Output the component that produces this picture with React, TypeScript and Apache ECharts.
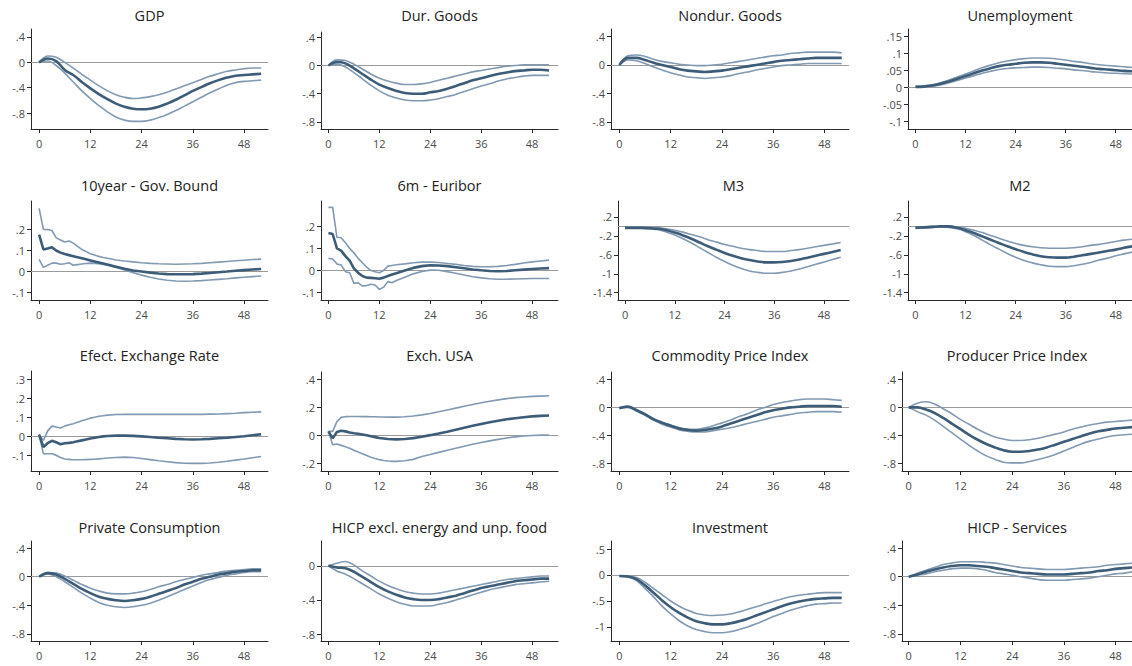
import React, { useEffect, useRef } from 'react';
import * as echarts from 'echarts';

// ---------- x positions (months) ----------
const xEven = [0, 2, 4, 6, 8, 10, 12, 14, 16, 18, 20, 22, 24, 26, 28, 30, 32, 34, 36, 38, 40, 42, 44, 46, 48, 50, 52];
const xJag = [0, 1, 2, 3, 4, 5, 6, 7, 8, 9, 10, 11, 12, 13, 14, 15, 16, 18, 20, 22, 24, 26, 28, 30, 32, 34, 36, 38, 40, 42, 44, 46, 48, 50, 52];
const xTicks = [0, 12, 24, 36, 48];

// ---------- titles ----------
const titles = [
  'GDP', 'Dur. Goods', 'Nondur. Goods', 'Unemployment',
  '10year - Gov. Bound', '6m - Euribor', 'M3', 'M2',
  'Efect. Exchange Rate', 'Exch. USA', 'Commodity Price Index', 'Producer Price Index',
  'Private Consumption', 'HICP excl. energy and unp. food', 'Investment', 'HICP - Services',
];

// ---------- y tick labels ----------
const ticks4 = [-0.8, -0.4, 0, 0.4];
const ticksUnemp = [-0.1, -0.05, 0, 0.05, 0.1, 0.15];
const ticksRate = [-0.1, 0, 0.1, 0.2];
const ticksMoney = [-1.4, -1, -0.6, -0.2, 0.2];
const ticksEER = [-0.1, 0, 0.1, 0.2, 0.3];
const ticksUSA = [-0.2, 0, 0.2, 0.4];
const ticksHicpX = [-0.8, -0.4, 0];
const ticksInv = [-1, -0.5, 0, 0.5];

// ---------- series (mean response, upper band, lower band) ----------
const gdpMean = [0, 0.06, 0.02, -0.12, -0.2, -0.31, -0.41, -0.5, -0.58, -0.65, -0.7, -0.73, -0.74, -0.73, -0.7, -0.65, -0.59, -0.52, -0.45, -0.39, -0.33, -0.28, -0.24, -0.21, -0.2, -0.19, -0.18];
const gdpUpper = [0, 0.1, 0.08, 0, -0.09, -0.19, -0.28, -0.37, -0.45, -0.51, -0.55, -0.57, -0.56, -0.54, -0.51, -0.47, -0.42, -0.37, -0.32, -0.27, -0.22, -0.18, -0.14, -0.12, -0.1, -0.09, -0.09];
const gdpLower = [0, 0.02, -0.05, -0.17, -0.31, -0.45, -0.57, -0.68, -0.78, -0.86, -0.91, -0.93, -0.93, -0.91, -0.87, -0.82, -0.76, -0.69, -0.62, -0.55, -0.48, -0.42, -0.36, -0.32, -0.3, -0.29, -0.28];

const durMean = [0, 0.05, 0.03, -0.04, -0.12, -0.2, -0.27, -0.32, -0.36, -0.39, -0.4, -0.4, -0.38, -0.36, -0.33, -0.29, -0.25, -0.21, -0.18, -0.15, -0.12, -0.1, -0.08, -0.07, -0.06, -0.06, -0.07];
const durUpper = [0, 0.08, 0.07, 0.02, -0.05, -0.12, -0.18, -0.22, -0.25, -0.27, -0.27, -0.26, -0.24, -0.21, -0.18, -0.15, -0.12, -0.09, -0.07, -0.05, -0.03, -0.01, 0, 0.01, 0.01, 0.01, 0.01];
const durLower = [0, 0.02, -0.02, -0.1, -0.19, -0.28, -0.36, -0.42, -0.46, -0.49, -0.5, -0.5, -0.49, -0.47, -0.44, -0.41, -0.37, -0.33, -0.29, -0.26, -0.22, -0.19, -0.17, -0.15, -0.14, -0.14, -0.14];

const nondurMean = [0, 0.1, 0.1, 0.07, 0.03, 0, -0.03, -0.06, -0.08, -0.09, -0.1, -0.09, -0.08, -0.06, -0.04, -0.02, 0, 0.02, 0.04, 0.06, 0.07, 0.08, 0.09, 0.1, 0.1, 0.1, 0.1];
const nondurUpper = [0, 0.13, 0.14, 0.12, 0.08, 0.05, 0.03, 0.01, 0, -0.01, -0.01, 0, 0.01, 0.03, 0.05, 0.07, 0.09, 0.11, 0.13, 0.14, 0.16, 0.17, 0.18, 0.18, 0.18, 0.18, 0.17];
const nondurLower = [0, 0.07, 0.06, 0.02, -0.03, -0.07, -0.11, -0.14, -0.17, -0.18, -0.19, -0.18, -0.17, -0.15, -0.12, -0.1, -0.07, -0.05, -0.03, -0.01, 0, 0.01, 0.02, 0.02, 0.02, 0.02, 0.02];

const unempMean = [0.002, 0.003, 0.006, 0.011, 0.018, 0.026, 0.034, 0.042, 0.05, 0.057, 0.063, 0.067, 0.07, 0.073, 0.074, 0.074, 0.073, 0.07, 0.067, 0.064, 0.061, 0.058, 0.055, 0.053, 0.051, 0.049, 0.048];
const unempUpper = [0.004, 0.005, 0.008, 0.014, 0.022, 0.031, 0.04, 0.049, 0.058, 0.066, 0.073, 0.078, 0.082, 0.085, 0.087, 0.087, 0.086, 0.084, 0.081, 0.077, 0.074, 0.07, 0.067, 0.065, 0.063, 0.061, 0.059];
const unempLower = [0.001, 0.002, 0.004, 0.008, 0.014, 0.021, 0.028, 0.035, 0.042, 0.048, 0.053, 0.056, 0.058, 0.059, 0.06, 0.06, 0.059, 0.057, 0.055, 0.052, 0.05, 0.047, 0.045, 0.043, 0.042, 0.041, 0.04];

const bondMean = [0.175, 0.105, 0.11, 0.115, 0.1, 0.09, 0.083, 0.078, 0.073, 0.068, 0.063, 0.058, 0.053, 0.048, 0.043, 0.038, 0.033, 0.023, 0.013, 0.005, 0, -0.005, -0.009, -0.012, -0.013, -0.013, -0.012, -0.01, -0.007, -0.003, 0, 0.004, 0.007, 0.01, 0.012];
const bondUpper = [0.3, 0.2, 0.2, 0.195, 0.16, 0.15, 0.14, 0.145, 0.135, 0.12, 0.105, 0.095, 0.085, 0.079, 0.072, 0.067, 0.063, 0.055, 0.05, 0.046, 0.042, 0.039, 0.037, 0.036, 0.035, 0.036, 0.037, 0.039, 0.042, 0.045, 0.048, 0.051, 0.054, 0.057, 0.059];
const bondLower = [0.058, 0.02, 0.03, 0.04, 0.04, 0.035, 0.037, 0.042, 0.03, 0.033, 0.036, 0.038, 0.04, 0.039, 0.037, 0.034, 0.03, 0.02, 0.008, -0.005, -0.017, -0.027, -0.035, -0.041, -0.045, -0.046, -0.045, -0.043, -0.04, -0.037, -0.034, -0.03, -0.027, -0.024, -0.021];

const euriborMean = [0.17, 0.165, 0.1, 0.09, 0.065, 0.045, 0.01, -0.01, -0.025, -0.032, -0.033, -0.035, -0.037, -0.032, -0.025, -0.018, -0.012, 0, 0.012, 0.02, 0.024, 0.023, 0.02, 0.015, 0.01, 0.005, 0.001, -0.002, -0.003, -0.002, 0.001, 0.004, 0.007, 0.009, 0.011];
const euriborUpper = [0.285, 0.285, 0.15, 0.148, 0.125, 0.1, 0.08, 0.055, 0.035, 0.015, 0, -0.005, -0.01, 0, 0.02, 0.023, 0.026, 0.03, 0.035, 0.038, 0.038, 0.036, 0.032, 0.028, 0.023, 0.019, 0.017, 0.017, 0.019, 0.023, 0.028, 0.034, 0.039, 0.043, 0.047];
const euriborLower = [0.055, 0.052, 0.03, 0.025, -0.005, -0.01, -0.058, -0.055, -0.07, -0.068, -0.062, -0.065, -0.085, -0.075, -0.05, -0.055, -0.045, -0.03, -0.015, -0.004, 0.002, 0.001, -0.005, -0.012, -0.02, -0.028, -0.033, -0.037, -0.039, -0.039, -0.038, -0.037, -0.036, -0.036, -0.036];

const m3Mean = [-0.03, -0.03, -0.03, -0.04, -0.05, -0.08, -0.13, -0.19, -0.26, -0.34, -0.42, -0.49, -0.56, -0.62, -0.67, -0.71, -0.74, -0.76, -0.76, -0.75, -0.73, -0.7, -0.66, -0.62, -0.58, -0.54, -0.5];
const m3Upper = [-0.02, -0.02, -0.02, -0.02, -0.03, -0.05, -0.08, -0.12, -0.17, -0.22, -0.28, -0.33, -0.38, -0.42, -0.46, -0.49, -0.51, -0.53, -0.53, -0.53, -0.51, -0.49, -0.46, -0.43, -0.4, -0.37, -0.34];
const m3Lower = [-0.04, -0.04, -0.04, -0.05, -0.07, -0.12, -0.18, -0.26, -0.35, -0.45, -0.55, -0.65, -0.74, -0.82, -0.89, -0.94, -0.97, -0.99, -0.99, -0.97, -0.94, -0.9, -0.85, -0.8, -0.75, -0.7, -0.65];

const m2Mean = [-0.03, -0.02, -0.01, 0, 0, -0.03, -0.08, -0.14, -0.21, -0.28, -0.35, -0.42, -0.48, -0.54, -0.59, -0.63, -0.65, -0.66, -0.66, -0.64, -0.61, -0.58, -0.55, -0.52, -0.49, -0.45, -0.42];
const m2Upper = [-0.02, -0.01, 0, 0, 0, -0.01, -0.04, -0.08, -0.13, -0.19, -0.25, -0.31, -0.36, -0.4, -0.43, -0.45, -0.46, -0.46, -0.46, -0.45, -0.43, -0.4, -0.38, -0.35, -0.32, -0.29, -0.27];
const m2Lower = [-0.04, -0.03, -0.02, -0.01, -0.02, -0.05, -0.11, -0.19, -0.29, -0.39, -0.48, -0.57, -0.65, -0.72, -0.77, -0.81, -0.84, -0.85, -0.85, -0.83, -0.8, -0.76, -0.71, -0.67, -0.62, -0.58, -0.54];

const eerMean = [0.01, -0.055, -0.035, -0.022, -0.03, -0.04, -0.035, -0.033, -0.03, -0.025, -0.02, -0.015, -0.01, -0.006, -0.002, 0.001, 0.003, 0.005, 0.005, 0.004, 0.001, -0.002, -0.006, -0.009, -0.012, -0.014, -0.015, -0.014, -0.012, -0.009, -0.006, -0.002, 0.002, 0.007, 0.012];
const eerUpper = [0.01, -0.02, 0.03, 0.055, 0.05, 0.045, 0.055, 0.062, 0.068, 0.075, 0.083, 0.09, 0.097, 0.102, 0.107, 0.11, 0.113, 0.116, 0.117, 0.117, 0.117, 0.117, 0.117, 0.117, 0.117, 0.117, 0.117, 0.117, 0.118, 0.119, 0.121, 0.123, 0.126, 0.128, 0.13];
const eerLower = [0.01, -0.09, -0.09, -0.09, -0.098, -0.11, -0.118, -0.12, -0.122, -0.122, -0.122, -0.121, -0.12, -0.119, -0.117, -0.115, -0.113, -0.11, -0.108, -0.11, -0.115, -0.121, -0.127, -0.132, -0.137, -0.14, -0.141, -0.141, -0.139, -0.135, -0.13, -0.124, -0.118, -0.111, -0.105];

const usaMean = [0.03, -0.02, 0.025, 0.035, 0.03, 0.022, 0.017, 0.013, 0.008, 0.002, -0.005, -0.011, -0.017, -0.021, -0.025, -0.026, -0.027, -0.025, -0.018, -0.008, 0.003, 0.015, 0.028, 0.042, 0.056, 0.07, 0.083, 0.095, 0.106, 0.116, 0.124, 0.131, 0.137, 0.141, 0.143];
const usaUpper = [0.03, 0.03, 0.1, 0.13, 0.135, 0.136, 0.136, 0.136, 0.135, 0.135, 0.134, 0.134, 0.133, 0.133, 0.132, 0.132, 0.132, 0.134, 0.14, 0.148, 0.158, 0.17, 0.183, 0.196, 0.209, 0.222, 0.234, 0.245, 0.255, 0.264, 0.271, 0.276, 0.28, 0.282, 0.284];
const usaLower = [0.03, -0.065, -0.06, -0.07, -0.08, -0.09, -0.105, -0.118, -0.13, -0.143, -0.155, -0.164, -0.172, -0.178, -0.182, -0.184, -0.184, -0.18, -0.17, -0.15, -0.135, -0.12, -0.105, -0.09, -0.076, -0.062, -0.05, -0.038, -0.027, -0.017, -0.009, -0.003, 0.001, 0.003, 0.004];

const commMean = [-0.01, 0.01, -0.04, -0.1, -0.17, -0.22, -0.26, -0.3, -0.32, -0.33, -0.32, -0.3, -0.27, -0.23, -0.19, -0.15, -0.11, -0.07, -0.04, -0.02, 0, 0.01, 0.02, 0.02, 0.02, 0.02, 0.01];
const commUpper = [-0.01, 0.02, -0.03, -0.09, -0.16, -0.21, -0.25, -0.29, -0.31, -0.31, -0.29, -0.26, -0.22, -0.18, -0.13, -0.09, -0.04, 0, 0.04, 0.07, 0.09, 0.11, 0.12, 0.12, 0.12, 0.11, 0.1];
const commLower = [-0.01, 0, -0.05, -0.11, -0.18, -0.24, -0.28, -0.32, -0.34, -0.35, -0.35, -0.33, -0.31, -0.29, -0.26, -0.23, -0.2, -0.17, -0.14, -0.12, -0.1, -0.08, -0.07, -0.06, -0.06, -0.06, -0.07];

const ppiMean = [0, 0, -0.03, -0.08, -0.15, -0.23, -0.31, -0.39, -0.46, -0.52, -0.57, -0.61, -0.63, -0.63, -0.62, -0.6, -0.57, -0.53, -0.49, -0.45, -0.41, -0.37, -0.34, -0.32, -0.3, -0.29, -0.28];
const ppiUpper = [0, 0.06, 0.08, 0.05, -0.02, -0.09, -0.17, -0.24, -0.31, -0.37, -0.42, -0.45, -0.47, -0.47, -0.46, -0.44, -0.41, -0.38, -0.35, -0.31, -0.28, -0.25, -0.23, -0.21, -0.2, -0.19, -0.18];
const ppiLower = [0, -0.06, -0.11, -0.18, -0.27, -0.36, -0.45, -0.54, -0.62, -0.69, -0.74, -0.78, -0.79, -0.79, -0.77, -0.74, -0.71, -0.67, -0.62, -0.57, -0.52, -0.48, -0.45, -0.42, -0.4, -0.39, -0.38];

const pcMean = [0, 0.05, 0.03, -0.03, -0.1, -0.17, -0.23, -0.28, -0.31, -0.33, -0.34, -0.33, -0.31, -0.28, -0.24, -0.2, -0.16, -0.11, -0.07, -0.03, 0, 0.03, 0.05, 0.07, 0.08, 0.09, 0.09];
const pcUpper = [0, 0.06, 0.05, 0.01, -0.05, -0.11, -0.16, -0.2, -0.23, -0.24, -0.24, -0.23, -0.21, -0.18, -0.14, -0.11, -0.07, -0.04, -0.01, 0.02, 0.04, 0.06, 0.08, 0.09, 0.1, 0.11, 0.11];
const pcLower = [0, 0.04, 0, -0.07, -0.15, -0.23, -0.3, -0.36, -0.4, -0.42, -0.43, -0.42, -0.4, -0.37, -0.33, -0.28, -0.23, -0.18, -0.13, -0.08, -0.04, -0.01, 0.02, 0.04, 0.06, 0.07, 0.07];

const hicpxMean = [0, -0.02, -0.03, -0.07, -0.13, -0.19, -0.25, -0.3, -0.34, -0.37, -0.39, -0.4, -0.4, -0.39, -0.37, -0.35, -0.32, -0.29, -0.26, -0.24, -0.22, -0.2, -0.18, -0.17, -0.16, -0.15, -0.15];
const hicpxUpper = [0, 0.03, 0.05, 0.01, -0.06, -0.12, -0.18, -0.23, -0.27, -0.3, -0.32, -0.33, -0.33, -0.32, -0.3, -0.28, -0.26, -0.24, -0.22, -0.2, -0.18, -0.16, -0.15, -0.14, -0.13, -0.12, -0.12];
const hicpxLower = [0, -0.06, -0.1, -0.15, -0.21, -0.27, -0.33, -0.38, -0.42, -0.45, -0.47, -0.47, -0.47, -0.45, -0.43, -0.4, -0.37, -0.34, -0.31, -0.28, -0.26, -0.24, -0.22, -0.21, -0.2, -0.19, -0.18];

const invMean = [-0.02, -0.03, -0.08, -0.2, -0.34, -0.49, -0.62, -0.73, -0.82, -0.89, -0.93, -0.95, -0.95, -0.93, -0.89, -0.84, -0.78, -0.72, -0.66, -0.6, -0.55, -0.51, -0.48, -0.46, -0.45, -0.44, -0.44];
const invUpper = [-0.02, -0.02, -0.05, -0.14, -0.26, -0.38, -0.5, -0.6, -0.68, -0.74, -0.77, -0.78, -0.77, -0.75, -0.71, -0.66, -0.61, -0.56, -0.51, -0.46, -0.42, -0.39, -0.37, -0.35, -0.34, -0.34, -0.34];
const invLower = [-0.02, -0.04, -0.11, -0.26, -0.42, -0.6, -0.75, -0.88, -0.98, -1.05, -1.09, -1.11, -1.11, -1.09, -1.05, -1, -0.94, -0.87, -0.8, -0.74, -0.68, -0.63, -0.59, -0.56, -0.55, -0.54, -0.54];

const hicpsMean = [0, 0.03, 0.07, 0.1, 0.13, 0.15, 0.16, 0.16, 0.15, 0.14, 0.12, 0.1, 0.08, 0.06, 0.05, 0.04, 0.03, 0.03, 0.03, 0.04, 0.05, 0.06, 0.08, 0.09, 0.11, 0.12, 0.13];
const hicpsUpper = [0, 0.05, 0.09, 0.13, 0.17, 0.19, 0.21, 0.21, 0.21, 0.2, 0.19, 0.17, 0.15, 0.13, 0.12, 0.11, 0.1, 0.1, 0.1, 0.11, 0.12, 0.13, 0.14, 0.16, 0.17, 0.18, 0.19];
const hicpsLower = [0, 0.02, 0.04, 0.07, 0.09, 0.11, 0.12, 0.12, 0.11, 0.09, 0.06, 0.04, 0.02, 0, -0.02, -0.04, -0.05, -0.05, -0.05, -0.04, -0.03, -0.02, 0, 0.02, 0.04, 0.05, 0.07];

// ---------- panels (data wiring) ----------
const panelData = [
  { xs: xEven, mean: gdpMean, upper: gdpUpper, lower: gdpLower, yTicks: ticks4 },
  { xs: xEven, mean: durMean, upper: durUpper, lower: durLower, yTicks: ticks4 },
  { xs: xEven, mean: nondurMean, upper: nondurUpper, lower: nondurLower, yTicks: ticks4 },
  { xs: xEven, mean: unempMean, upper: unempUpper, lower: unempLower, yTicks: ticksUnemp },
  { xs: xJag, mean: bondMean, upper: bondUpper, lower: bondLower, yTicks: ticksRate },
  { xs: xJag, mean: euriborMean, upper: euriborUpper, lower: euriborLower, yTicks: ticksRate },
  { xs: xEven, mean: m3Mean, upper: m3Upper, lower: m3Lower, yTicks: ticksMoney },
  { xs: xEven, mean: m2Mean, upper: m2Upper, lower: m2Lower, yTicks: ticksMoney },
  { xs: xJag, mean: eerMean, upper: eerUpper, lower: eerLower, yTicks: ticksEER },
  { xs: xJag, mean: usaMean, upper: usaUpper, lower: usaLower, yTicks: ticksUSA },
  { xs: xEven, mean: commMean, upper: commUpper, lower: commLower, yTicks: ticks4 },
  { xs: xEven, mean: ppiMean, upper: ppiUpper, lower: ppiLower, yTicks: ticks4 },
  { xs: xEven, mean: pcMean, upper: pcUpper, lower: pcLower, yTicks: ticks4 },
  { xs: xEven, mean: hicpxMean, upper: hicpxUpper, lower: hicpxLower, yTicks: ticksHicpX },
  { xs: xEven, mean: invMean, upper: invUpper, lower: invLower, yTicks: ticksInv },
  { xs: xEven, mean: hicpsMean, upper: hicpsUpper, lower: hicpsLower, yTicks: ticks4 },
];

// ---------- layout (pixel boxes and axis extents) ----------
const layout = [
  { l: 31, t: 29, w: 237, h: 100, x0: -1.9, x1: 53.6, y0: -1.05, y1: 0.525, ty: 17 },
  { l: 321, t: 32, w: 237, h: 97, x0: -1.75, x1: 54.1, y0: -0.9, y1: 0.475, ty: 17 },
  { l: 611, t: 29, w: 238, h: 100, x0: -1.95, x1: 53.7, y0: -0.9, y1: 0.505, ty: 17 },
  { l: 908, t: 29, w: 224, h: 100, x0: -1.8, x1: 51.9, y0: -0.1215, y1: 0.172, ty: 17 },
  { l: 31, t: 201, w: 237, h: 99, x0: -1.9, x1: 53.6, y0: -0.135, y1: 0.335, ty: 187 },
  { l: 321, t: 201, w: 237, h: 99, x0: -1.75, x1: 54.1, y0: -0.133, y1: 0.314, ty: 187 },
  { l: 618, t: 201, w: 231, h: 99, x0: -1.7, x1: 54, y0: -1.554, y1: 0.537, ty: 187 },
  { l: 908, t: 201, w: 224, h: 99, x0: -1.8, x1: 51.9, y0: -1.554, y1: 0.537, ty: 187 },
  { l: 31, t: 371, w: 237, h: 100, x0: -1.9, x1: 53.6, y0: -0.181, y1: 0.345, ty: 357 },
  { l: 321, t: 372, w: 237, h: 99, x0: -1.75, x1: 54.1, y0: -0.253, y1: 0.454, ty: 357 },
  { l: 611, t: 372, w: 238, h: 99, x0: -1.95, x1: 53.7, y0: -0.905, y1: 0.504, ty: 357 },
  { l: 902, t: 372, w: 230, h: 99, x0: -1.56, x1: 51.8, y0: -0.905, y1: 0.504, ty: 357 },
  { l: 31, t: 541, w: 237, h: 100, x0: -1.9, x1: 53.6, y0: -0.9, y1: 0.5, ty: 529 },
  { l: 321, t: 541, w: 237, h: 100, x0: -1.75, x1: 54.1, y0: -0.88, y1: 0.29, ty: 529 },
  { l: 611, t: 541, w: 238, h: 100, x0: -1.95, x1: 53.7, y0: -1.27, y1: 0.654, ty: 529 },
  { l: 902, t: 541, w: 230, h: 100, x0: -1.56, x1: 51.8, y0: -0.9, y1: 0.5, ty: 529 },
];

const FONT = "'Open Sans', 'Noto Sans', sans-serif";
const MEAN_COLOR = '#3d5c78';
const BAND_COLOR = '#8199b1';
const ZERO_COLOR = '#9a9a9a';
const AXIS_COLOR = '#2a2a2a';
const LABEL_COLOR = '#4a4a4a';

function fmt(v: number): string {
  const r = Math.round(v * 1000) / 1000;
  let s = String(r);
  if (s.startsWith('0.')) s = s.slice(1);
  else if (s.startsWith('-0.')) s = '-' + s.slice(2);
  return s;
}

function buildOption() {
  const grid: any[] = [];
  const xAxis: any[] = [];
  const yAxis: any[] = [];
  const series: any[] = [];
  const title: any[] = [];

  panelData.forEach((p, i) => {
    const L = layout[i];
    grid.push({ left: L.l, top: L.t, width: L.w, height: L.h, containLabel: false });
    title.push({
      text: titles[i],
      left: L.l + L.w / 2,
      top: L.ty - 9,
      textAlign: 'center',
      padding: 0,
      textStyle: { fontFamily: FONT, fontSize: 14.5, fontWeight: 'normal', color: '#222' },
    });
    xAxis.push({
      type: 'value',
      gridIndex: i,
      min: L.x0,
      max: L.x1,
      axisLine: { show: true, onZero: false, lineStyle: { color: AXIS_COLOR, width: 1 } },
      axisTick: { show: true, length: 4, customValues: xTicks, lineStyle: { color: AXIS_COLOR } },
      axisLabel: { show: true, customValues: xTicks, margin: 9, color: LABEL_COLOR, fontFamily: FONT, fontSize: 11 },
      splitLine: { show: false },
    });
    yAxis.push({
      type: 'value',
      gridIndex: i,
      min: L.y0,
      max: L.y1,
      axisLine: { show: true, onZero: false, lineStyle: { color: AXIS_COLOR, width: 1 } },
      axisTick: { show: true, length: 4, customValues: p.yTicks, lineStyle: { color: AXIS_COLOR } },
      axisLabel: {
        show: true,
        customValues: p.yTicks,
        margin: 6,
        color: LABEL_COLOR,
        fontFamily: FONT,
        fontSize: 11,
        formatter: (v: number) => fmt(v),
      },
      splitLine: { show: false },
    });
    const pair = (ys: number[]) => p.xs.map((x, k) => [x, ys[k]]);
    const smooth = p.xs === xEven ? 0.35 : false;
    series.push({
      type: 'line',
      xAxisIndex: i,
      yAxisIndex: i,
      data: pair(p.upper),
      showSymbol: false,
      symbol: 'none',
      smooth,
      silent: true,
      lineStyle: { color: BAND_COLOR, width: 1.6 },
      z: 3,
      markLine: {
        silent: true,
        symbol: 'none',
        label: { show: false },
        lineStyle: { color: ZERO_COLOR, width: 1.2, type: 'solid' },
        data: [{ yAxis: 0 }],
        z: 1,
      },
    });
    series.push({
      type: 'line',
      xAxisIndex: i,
      yAxisIndex: i,
      data: pair(p.lower),
      showSymbol: false,
      symbol: 'none',
      smooth,
      silent: true,
      lineStyle: { color: BAND_COLOR, width: 1.6 },
      z: 3,
    });
    series.push({
      type: 'line',
      xAxisIndex: i,
      yAxisIndex: i,
      data: pair(p.mean),
      showSymbol: false,
      symbol: 'none',
      smooth,
      silent: true,
      lineStyle: { color: MEAN_COLOR, width: 2.6 },
      z: 4,
    });
  });

  return {
    animation: false,
    backgroundColor: '#ffffff',
    textStyle: { fontFamily: FONT },
    title,
    grid,
    xAxis,
    yAxis,
    series,
  };
}

export default function App() {
  const ref = useRef<HTMLDivElement>(null);
  useEffect(() => {
    document.body.style.margin = '0';
    if (!ref.current) return;
    const chart = echarts.init(ref.current, undefined, { renderer: 'svg' });
    chart.setOption(buildOption() as any);
    return () => chart.dispose();
  }, []);
  return <div ref={ref} style={{ width: 1132, height: 666 }} />;
}
